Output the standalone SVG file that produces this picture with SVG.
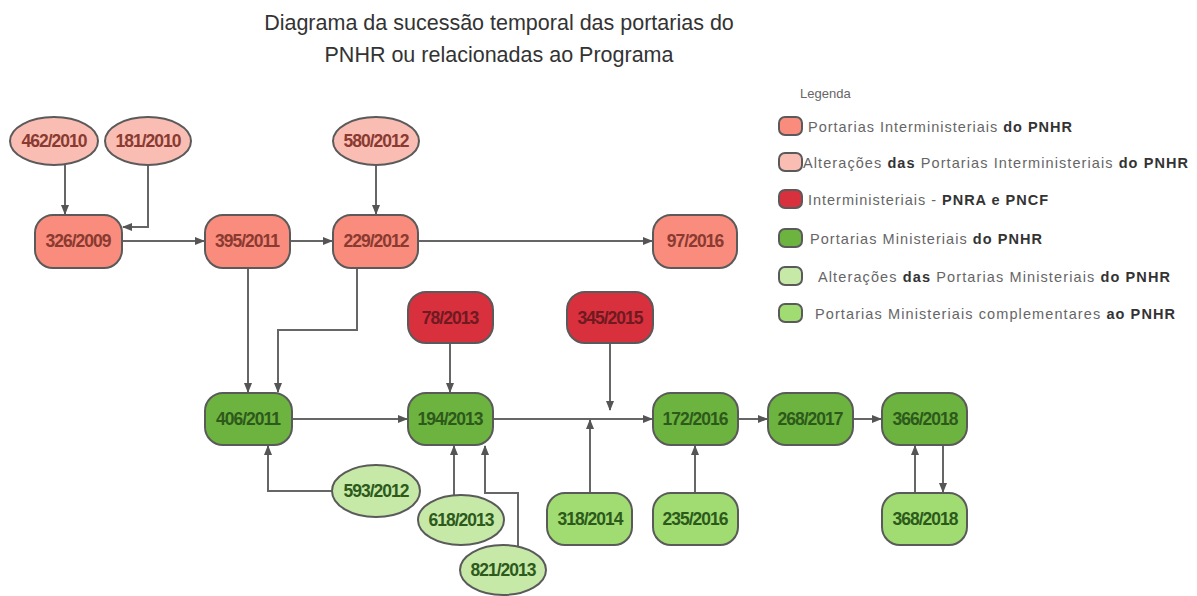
<svg xmlns="http://www.w3.org/2000/svg" width="1197" height="596" viewBox="0 0 1197 596">
<defs>
<marker id="ah" viewBox="0 0 10 10" refX="9" refY="5" markerWidth="10" markerHeight="10" markerUnits="userSpaceOnUse" orient="auto"><path d="M0,1 L10,5 L0,9 z" fill="#555"/></marker>
<style>
.t{font-family:"Liberation Sans",Arial,sans-serif;}
.title{font-size:21.5px;fill:#333;text-anchor:middle;}
.n{stroke:#5a5a5a;stroke-width:2;}
.nl{font-size:17.5px;font-weight:bold;text-anchor:middle;dominant-baseline:central;letter-spacing:-1px;}
.pi{fill:#F98C7C;} .pa{fill:#F9BDB3;} .rd{fill:#D9303E;} .gm{fill:#6DB33F;} .ga{fill:#C6E9A8;} .gc{fill:#A0DC72;}
.tp{fill:#8a3a30;} .tr{fill:#6e1a20;} .tg{fill:#2d5a1b;}
.c{fill:none;stroke:#666;stroke-width:2;marker-end:url(#ah);}
.lg{font-size:14.5px;fill:#666;}
.lb{font-weight:bold;fill:#333;}
</style>
</defs>
<g id="title" class="t">
<text class="title" x="499" y="30">Diagrama da sucessão temporal das portarias do</text>
<text class="title" x="499" y="62">PNHR ou relacionadas ao Programa</text>
</g>
<g id="connectors">
<path class="c" d="M65,165 V214"/>
<path class="c" d="M148,165 V227 H123"/>
<path class="c" d="M122,241 H204"/>
<path class="c" d="M290,241 H332"/>
<path class="c" d="M376,165 V214"/>
<path class="c" d="M418,241 H652"/>
<path class="c" d="M248,268 V392"/>
<path class="c" d="M357,268 V330 H278 V392"/>
<path class="c" d="M450,343 V392"/>
<path class="c" d="M292,419 H407"/>
<path class="c" d="M332,491 H268 V446"/>
<path class="c" d="M454,495 V446"/>
<path class="c" d="M518,546 V493 H485 V446"/>
<path class="c" d="M493,419 H652"/>
<path class="c" d="M610,343 V410"/>
<path class="c" d="M590,493 V420"/>
<path class="c" d="M695,493 V446"/>
<path class="c" d="M738,419 H767"/>
<path class="c" d="M853,419 H881"/>
<path class="c" d="M915,493 V446"/>
<path class="c" d="M943,445 V492"/>
</g>
<g id="n462" class="t"><ellipse class="n pa" cx="54" cy="141" rx="44" ry="24"/><text class="nl tp" x="54" y="141">462/2010</text></g>
<g id="n181" class="t"><ellipse class="n pa" cx="148" cy="141" rx="43" ry="24"/><text class="nl tp" x="148" y="141">181/2010</text></g>
<g id="n580" class="t"><ellipse class="n pa" cx="376" cy="141" rx="43" ry="24"/><text class="nl tp" x="376" y="141">580/2012</text></g>
<g id="n326" class="t"><rect class="n pi" x="35" y="215" width="87" height="53" rx="18"/><text class="nl tp" x="78" y="241">326/2009</text></g>
<g id="n395" class="t"><rect class="n pi" x="205" y="215" width="85" height="53" rx="18"/><text class="nl tp" x="247" y="241">395/2011</text></g>
<g id="n229" class="t"><rect class="n pi" x="333" y="215" width="85" height="53" rx="18"/><text class="nl tp" x="376" y="241">229/2012</text></g>
<g id="n97" class="t"><rect class="n pi" x="653" y="215" width="84" height="53" rx="18"/><text class="nl tp" x="695" y="241">97/2016</text></g>
<g id="n78" class="t"><rect class="n rd" x="408" y="292" width="85" height="51" rx="18"/><text class="nl tr" x="450" y="318">78/2013</text></g>
<g id="n345" class="t"><rect class="n rd" x="567" y="292" width="86" height="51" rx="18"/><text class="nl tr" x="610" y="318">345/2015</text></g>
<g id="n406" class="t"><rect class="n gm" x="205" y="393" width="87" height="52" rx="18"/><text class="nl tg" x="248" y="419">406/2011</text></g>
<g id="n194" class="t"><rect class="n gm" x="408" y="393" width="85" height="52" rx="18"/><text class="nl tg" x="450" y="419">194/2013</text></g>
<g id="n172" class="t"><rect class="n gm" x="653" y="393" width="85" height="52" rx="18"/><text class="nl tg" x="695" y="419">172/2016</text></g>
<g id="n268" class="t"><rect class="n gm" x="768" y="393" width="85" height="52" rx="18"/><text class="nl tg" x="810" y="419">268/2017</text></g>
<g id="n366" class="t"><rect class="n gm" x="882" y="393" width="85" height="52" rx="18"/><text class="nl tg" x="925" y="419">366/2018</text></g>
<g id="n593" class="t"><ellipse class="n ga" cx="376" cy="491" rx="44" ry="26"/><text class="nl tg" x="376" y="491">593/2012</text></g>
<g id="n618" class="t"><ellipse class="n ga" cx="461" cy="520" rx="43" ry="25"/><text class="nl tg" x="461" y="520">618/2013</text></g>
<g id="n821" class="t"><ellipse class="n ga" cx="503" cy="570" rx="43" ry="25"/><text class="nl tg" x="503" y="570">821/2013</text></g>
<g id="n318" class="t"><rect class="n gc" x="547" y="493" width="85" height="52" rx="18"/><text class="nl tg" x="590" y="519">318/2014</text></g>
<g id="n235" class="t"><rect class="n gc" x="653" y="493" width="85" height="52" rx="18"/><text class="nl tg" x="695" y="519">235/2016</text></g>
<g id="n368" class="t"><rect class="n gc" x="882" y="493" width="85" height="52" rx="18"/><text class="nl tg" x="925" y="519">368/2018</text></g>
<g id="legend" class="t">
<text class="lg" x="800" y="98" style="font-size:13px">Legenda</text>
<rect class="n pi" x="779" y="117" width="23" height="18" rx="6"/>
<text class="lg" x="808" y="132" textLength="264" lengthAdjust="spacing">Portarias Interministeriais <tspan class="lb">do PNHR</tspan></text>
<rect class="n pa" x="779" y="153" width="23" height="18" rx="6"/>
<text class="lg" x="803" y="168" textLength="385" lengthAdjust="spacing">Alterações  <tspan class="lb">das</tspan> Portarias Interministeriais <tspan class="lb">do PNHR</tspan></text>
<rect class="n rd" x="779" y="190" width="23" height="18" rx="6"/>
<text class="lg" x="808" y="205" textLength="240" lengthAdjust="spacing">Interministeriais - <tspan class="lb">PNRA e PNCF</tspan></text>
<rect class="n gm" x="779" y="229" width="23" height="18" rx="6"/>
<text class="lg" x="810" y="244" textLength="232" lengthAdjust="spacing">Portarias Ministeriais <tspan class="lb">do PNHR</tspan></text>
<rect class="n ga" x="779" y="267" width="23" height="18" rx="6"/>
<text class="lg" x="818" y="282" textLength="352" lengthAdjust="spacing">Alterações  <tspan class="lb">das</tspan> Portarias Ministeriais <tspan class="lb">do PNHR</tspan></text>
<rect class="n gc" x="779" y="304" width="23" height="18" rx="6"/>
<text class="lg" x="815" y="319" textLength="360" lengthAdjust="spacing">Portarias Ministeriais complementares <tspan class="lb">ao PNHR</tspan></text>
</g>
</svg>
